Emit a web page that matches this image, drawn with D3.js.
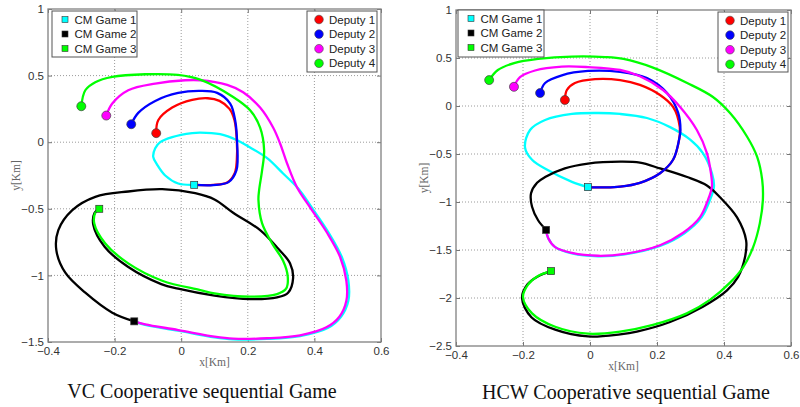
<!DOCTYPE html>
<html><head><meta charset="utf-8">
<script src="https://cdn.jsdelivr.net/npm/d3@7"></script>
<style>body{margin:0;background:#fff}svg{display:block}</style>
</head><body><svg id="c" width="800" height="407"></svg>
<script>
// ---------- data ----------
const xTicks = [-0.4, -0.2, 0, 0.2, 0.4, 0.6];
const vcYTicks = [-1.5, -1, -0.5, 0, 0.5, 1];
const hcwYTicks = [-2.5, -2, -1.5, -1, -0.5, 0, 0.5, 1];
const cmLabels = ["CM Game 1", "CM Game 2", "CM Game 3"];
const deputyLabels = ["Deputy 1", "Deputy 2", "Deputy 3", "Deputy 4"];
const cmColors = ["#00ffff", "#000000", "#00ff00"];
const deputyColors = ["#ff0000", "#0000ff", "#ff00ff", "#00ff00"];
const titles = ["VC Cooperative sequential Game", "HCW Cooperative sequential Game"];

// VC panel trajectories [x, y] in km
const vcDeputy1 = [[-0.075,0.068],[-0.069,0.165],[-0.027,0.26],[0.033,0.318],[0.08,0.33],[0.115,0.31],[0.145,0.25],[0.160,0.165],[0.167,0.015],[0.167,-0.135],[0.161,-0.23],[0.138,-0.303],[0.096,-0.321],[0.039,-0.32]];
const vcDeputy2 = [[-0.15,0.135],[-0.129,0.22],[-0.078,0.31],[-0.009,0.37],[0.057,0.385],[0.108,0.37],[0.147,0.29],[0.162,0.165],[0.168,-0.01],[0.166,-0.21],[0.142,-0.30],[0.096,-0.322],[0.039,-0.32]];
const vcDeputy3 = [[-0.225,0.20],[-0.207,0.29],[-0.159,0.39],[-0.078,0.44],[0.012,0.465],[0.057,0.465],[0.138,0.43],[0.186,0.375],[0.237,0.26],[0.276,0.11],[0.297,-0.01],[0.318,-0.16],[0.348,-0.34],[0.387,-0.49],[0.438,-0.68],[0.477,-0.86],[0.496,-1.04],[0.496,-1.19],[0.475,-1.31],[0.436,-1.39],[0.357,-1.45],[0.258,-1.472],[0.156,-1.475],[0.10,-1.46],[-0.009,-1.41],[-0.108,-1.368],[-0.141,-1.345]];
const vcDeputy4 = [[-0.30,0.27],[-0.288,0.39],[-0.258,0.45],[-0.207,0.49],[-0.108,0.51],[-0.01,0.505],[0.057,0.47],[0.156,0.34],[0.207,0.24],[0.237,0.11],[0.249,-0.06],[0.243,-0.21],[0.234,-0.36],[0.232,-0.435],[0.243,-0.61],[0.273,-0.76],[0.306,-0.89],[0.32,-1.01],[0.315,-1.10],[0.288,-1.14],[0.207,-1.16],[0.10,-1.135],[0.057,-1.11],[-0.057,-1.04],[-0.159,-0.91],[-0.228,-0.76],[-0.261,-0.61],[-0.258,-0.53],[-0.246,-0.50]];
const vcCM1 = [[0.039,-0.32],[-0.009,-0.31],[-0.048,-0.25],[-0.072,-0.17],[-0.084,-0.11],[-0.078,-0.045],[-0.063,0.0],[-0.027,0.038],[0.033,0.068],[0.057,0.072],[0.117,0.06],[0.168,0.015],[0.207,-0.04],[0.258,-0.12],[0.306,-0.235],[0.352,-0.35],[0.392,-0.49],[0.443,-0.68],[0.482,-0.86],[0.502,-1.04],[0.502,-1.19],[0.48,-1.31],[0.44,-1.395],[0.357,-1.455],[0.258,-1.477],[0.156,-1.48],[0.10,-1.465],[-0.009,-1.415],[-0.108,-1.372],[-0.141,-1.345]];
const vcCM2 = [[-0.141,-1.345],[-0.207,-1.28],[-0.288,-1.13],[-0.348,-0.98],[-0.375,-0.81],[-0.369,-0.66],[-0.327,-0.51],[-0.258,-0.41],[-0.159,-0.37],[-0.057,-0.353],[0.042,-0.383],[0.10,-0.43],[0.156,-0.53],[0.237,-0.66],[0.288,-0.79],[0.327,-0.91],[0.336,-1.02],[0.321,-1.13],[0.288,-1.165],[0.207,-1.178],[0.10,-1.152],[-0.009,-1.10],[-0.06,-1.065],[-0.16,-0.935],[-0.23,-0.785],[-0.264,-0.62],[-0.26,-0.53],[-0.246,-0.50]];

// HCW panel trajectories [x, y] in km
const hcwDeputy1 = [[-0.075,0.0625],[-0.069,0.167],[-0.045,0.24],[0.015,0.28],[0.09,0.27],[0.149,0.22],[0.209,0.115],[0.248,-0.01],[0.268,-0.22],[0.266,-0.35],[0.248,-0.56],[0.209,-0.70],[0.149,-0.80],[0.09,-0.84],[0.045,-0.848],[-0.006,-0.845]];
const hcwDeputy2 = [[-0.149,0.135],[-0.134,0.24],[-0.084,0.32],[-0.006,0.365],[0.09,0.355],[0.17,0.29],[0.23,0.135],[0.263,-0.07],[0.27,-0.25],[0.266,-0.35],[0.248,-0.56],[0.209,-0.70],[0.149,-0.80],[0.09,-0.84],[0.045,-0.848],[-0.006,-0.845]];
const hcwDeputy3 = [[-0.227,0.20],[-0.209,0.30],[-0.164,0.37],[-0.084,0.41],[-0.006,0.405],[0.09,0.375],[0.149,0.31],[0.218,0.167],[0.269,-0.01],[0.319,-0.25],[0.349,-0.49],[0.361,-0.70],[0.364,-0.84],[0.352,-0.98],[0.328,-1.16],[0.278,-1.32],[0.209,-1.45],[0.104,-1.54],[0.024,-1.56],[-0.054,-1.53],[-0.104,-1.47],[-0.125,-1.375],[-0.131,-1.29]];
const hcwDeputy4 = [[-0.301,0.27],[-0.275,0.375],[-0.224,0.45],[-0.155,0.49],[-0.054,0.515],[0.045,0.51],[0.10,0.49],[0.188,0.40],[0.29,0.24],[0.367,0.094],[0.418,-0.073],[0.469,-0.32],[0.499,-0.53],[0.514,-0.77],[0.516,-0.98],[0.507,-1.22],[0.487,-1.47],[0.457,-1.68],[0.418,-1.84],[0.358,-2.02],[0.289,-2.16],[0.188,-2.28],[0.09,-2.35],[-0.006,-2.372],[-0.104,-2.30],[-0.173,-2.16],[-0.2,-1.99],[-0.185,-1.86],[-0.155,-1.77],[-0.116,-1.72]];
const hcwCM1 = [[-0.006,-0.845],[-0.054,-0.79],[-0.125,-0.67],[-0.173,-0.56],[-0.194,-0.43],[-0.179,-0.25],[-0.134,-0.146],[-0.054,-0.083],[0.024,-0.073],[0.09,-0.083],[0.17,-0.125],[0.239,-0.22],[0.299,-0.35],[0.337,-0.49],[0.364,-0.70],[0.37,-0.84],[0.358,-0.98],[0.333,-1.16],[0.282,-1.325],[0.211,-1.455],[0.104,-1.545],[0.024,-1.565],[-0.054,-1.535],[-0.104,-1.47],[-0.125,-1.375],[-0.131,-1.29]];
const hcwCM2 = [[-0.131,-1.29],[-0.155,-1.19],[-0.173,-1.05],[-0.176,-0.91],[-0.158,-0.80],[-0.134,-0.74],[-0.075,-0.65],[-0.006,-0.60],[0.09,-0.58],[0.149,-0.59],[0.209,-0.65],[0.29,-0.74],[0.35,-0.83],[0.388,-0.95],[0.439,-1.16],[0.466,-1.40],[0.463,-1.57],[0.442,-1.78],[0.409,-1.92],[0.337,-2.09],[0.239,-2.25],[0.14,-2.35],[0.09,-2.378],[-0.006,-2.40],[-0.104,-2.33],[-0.175,-2.20],[-0.203,-2.0],[-0.187,-1.86],[-0.156,-1.775],[-0.116,-1.72]];

// ---------- drawing ----------
const svg = d3.select("#c");
const panels = [
  {box:[48,381,9,342], yDomain:[-1.5,1], yTicks:vcYTicks, title:titles[0], titleX:202, titleY:398,
   cm:[vcCM1,vcCM2], dep:[vcDeputy1,vcDeputy2,vcDeputy3,vcDeputy4], cmEnd:vcDeputy4,
   leg1:[52,11,85,46], leg2:[307,11,70,61]},
  {box:[456,791,10,346], yDomain:[-2.5,1], yTicks:hcwYTicks, title:titles[1], titleX:626, titleY:399,
   cm:[hcwCM1,hcwCM2], dep:[hcwDeputy1,hcwDeputy2,hcwDeputy3,hcwDeputy4], cmEnd:hcwDeputy4,
   leg1:[458,10,86,47], leg2:[718,12,70,60]}
];
const font = "'Liberation Sans', Arial, Helvetica, sans-serif";
const serif = "'Liberation Serif', 'Times New Roman', serif";

panels.forEach(p => {
  const [x0,x1,y0,y1] = p.box;
  const x = d3.scaleLinear().domain([-0.4,0.6]).range([x0,x1]);
  const y = d3.scaleLinear().domain(p.yDomain).range([y1,y0]);
  const g = svg.append("g");

  // grid
  g.append("g").selectAll("line").data(xTicks.slice(1,-1)).join("line")
    .attr("x1",d=>x(d)).attr("x2",d=>x(d)).attr("y1",y0).attr("y2",y1)
    .attr("stroke","#9a9a9a").attr("stroke-width",1).attr("stroke-dasharray","1,2");
  g.append("g").selectAll("line").data(p.yTicks.slice(1,-1)).join("line")
    .attr("y1",d=>y(d)).attr("y2",d=>y(d)).attr("x1",x0).attr("x2",x1)
    .attr("stroke","#9a9a9a").attr("stroke-width",1).attr("stroke-dasharray","1,2");

  // axes with inward ticks
  const fmt = d3.format("");
  const ax = (gen, tx, ty) => {
    const a = g.append("g").attr("transform",`translate(${tx},${ty})`).call(gen);
    a.select(".domain").remove();
    a.selectAll(".tick line").attr("stroke","#777");
    a.selectAll(".tick text").attr("fill","#333").style("font-family",font).style("font-size","11.5px");
    return a;
  };
  ax(d3.axisBottom(x).tickValues(xTicks).tickFormat(fmt).tickSizeInner(-4).tickPadding(5), 0, y1);
  ax(d3.axisTop(x).tickValues(xTicks).tickSizeInner(-4).tickFormat(""), 0, y0);
  ax(d3.axisLeft(y).tickValues(p.yTicks).tickFormat(fmt).tickSizeInner(-4).tickPadding(4), x0, 0);
  ax(d3.axisRight(y).tickValues(p.yTicks).tickSizeInner(-4).tickFormat(""), x1, 0);

  // frame
  g.append("rect").attr("x",x0).attr("y",y0).attr("width",x1-x0).attr("height",y1-y0)
    .attr("fill","none").attr("stroke","#808080").attr("stroke-width",1.3);

  // axis labels
  g.append("text").attr("x",(x0+x1)/2).attr("y",y1+24).attr("text-anchor","middle")
    .style("font-family",serif).style("font-size","11.5px").attr("fill","#666").text("x[Km]");
  g.append("text").attr("transform",`translate(${x0-28},${(y0+y1)/2}) rotate(-90)`).attr("text-anchor","middle")
    .style("font-family",serif).style("font-size","11.5px").attr("fill","#666").text("y[Km]");

  // trajectories
  const line = d3.line().x(d=>x(d[0])).y(d=>y(d[1])).curve(d3.curveCatmullRom.alpha(0.5));
  const plot = (data,color) => g.append("path").datum(data).attr("d",line)
    .attr("fill","none").attr("stroke",color).attr("stroke-width",2.3)
    .attr("stroke-linejoin","round").attr("stroke-linecap","round");
  plot(p.cm[0], cmColors[0]);
  plot(p.cm[1], cmColors[1]);
  plot(p.dep[0], deputyColors[0]);
  plot(p.dep[1], deputyColors[1]);
  plot(p.dep[2], deputyColors[2]);
  plot(p.dep[3], deputyColors[3]);

  // start circles
  p.dep.forEach((d,i)=>{
    g.append("circle").attr("cx",x(d[0][0])).attr("cy",y(d[0][1])).attr("r",4.5)
      .attr("fill",deputyColors[i]).attr("stroke","#444").attr("stroke-width",0.7);
  });
  // CM squares
  const cmPts = [p.cm[0][0], p.cm[1][0], p.cmEnd[p.cmEnd.length-1]];
  cmPts.forEach((d,i)=>{
    g.append("rect").attr("x",x(d[0])-3.5).attr("y",y(d[1])-3.5).attr("width",7).attr("height",7)
      .attr("fill",cmColors[i]).attr("stroke","#333").attr("stroke-width",0.7);
  });

  // legends
  const [lx,ly,lw,lh] = p.leg1;
  g.append("rect").attr("x",lx).attr("y",ly).attr("width",lw).attr("height",lh)
    .attr("fill","#fff").attr("stroke","#555").attr("stroke-width",1);
  cmLabels.forEach((t,i)=>{
    const yy = ly + 8.5 + i*14.5;
    g.append("rect").attr("x",lx+10).attr("y",yy-3).attr("width",6).attr("height",6)
      .attr("fill",cmColors[i]).attr("stroke","#333").attr("stroke-width",0.6);
    g.append("text").attr("x",lx+22.5).attr("y",yy+4).style("font-family",font).style("font-size","11.5px")
      .attr("fill","#222").text(t);
  });
  const [mx,my,mw,mh] = p.leg2;
  g.append("rect").attr("x",mx).attr("y",my).attr("width",mw).attr("height",mh)
    .attr("fill","#fff").attr("stroke","#555").attr("stroke-width",1);
  deputyLabels.forEach((t,i)=>{
    const yy = my + 8.5 + i*14.6;
    g.append("circle").attr("cx",mx+12).attr("cy",yy).attr("r",4.3)
      .attr("fill",deputyColors[i]).attr("stroke","#444").attr("stroke-width",0.6);
    g.append("text").attr("x",mx+22).attr("y",yy+4).style("font-family",font).style("font-size","11.5px")
      .attr("fill","#222").text(t);
  });

  // title
  svg.append("text").attr("x",p.titleX).attr("y",p.titleY).attr("text-anchor","middle")
    .style("font-family",serif).style("font-size","20px").attr("fill","#111").text(p.title);
});
</script></body></html>
